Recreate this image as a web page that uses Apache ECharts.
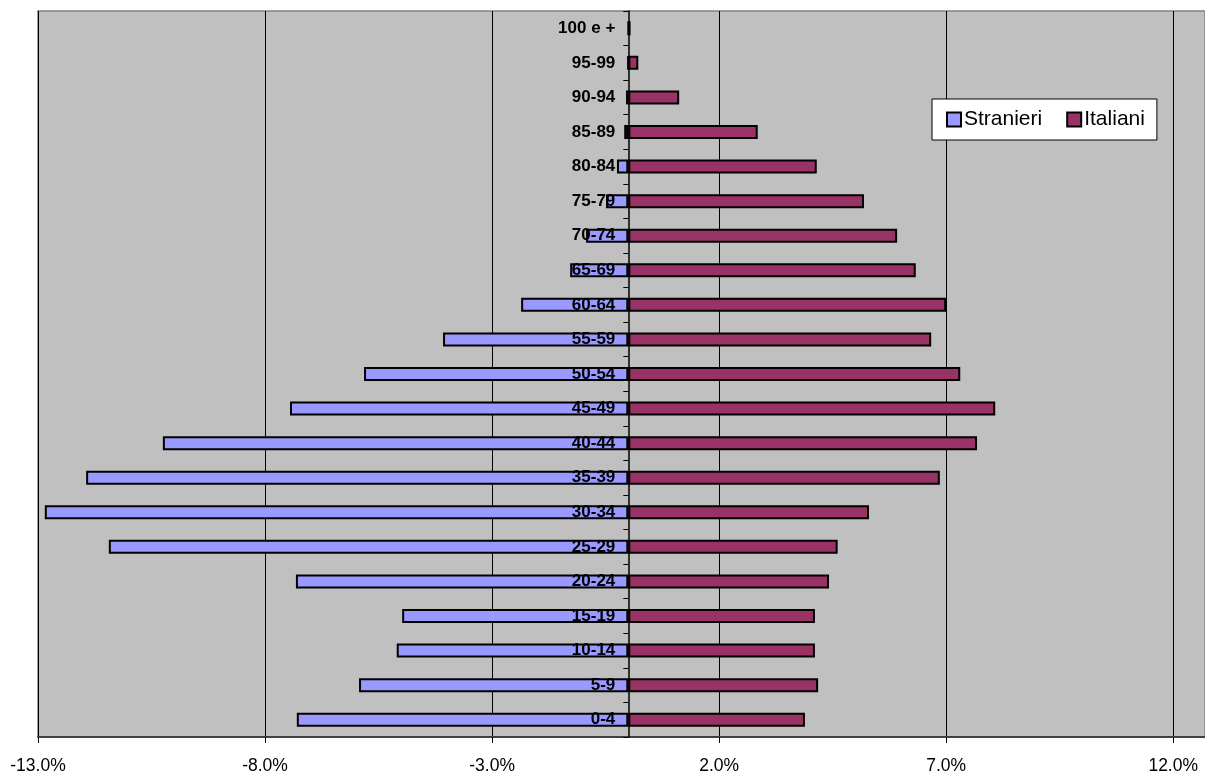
<!DOCTYPE html>
<html>
<head>
<meta charset="utf-8">
<title>Piramide per età – Stranieri e Italiani</title>
<script src="https://cdn.jsdelivr.net/npm/echarts@6/dist/echarts.min.js"></script>
<style>
  html, body { margin: 0; padding: 0; background: #ffffff; }
  #chart { width: 1205px; height: 771px; }
</style>
</head>
<body>
<div id="chart"></div>
<script>
// Age classes, from youngest (bottom) to oldest (top)
const ageClasses = ['0-4', '5-9', '10-14', '15-19', '20-24', '25-29', '30-34', '35-39',
  '40-44', '45-49', '50-54', '55-59', '60-64', '65-69', '70-74', '75-79',
  '80-84', '85-89', '90-94', '95-99', '100 e +'];

// Share of each population by age class (%); foreigners drawn on the negative side
const stranieri = [-7.30, -5.93, -5.10, -4.98, -7.32, -11.44, -12.85, -11.94,
  -10.25, -7.45, -5.82, -4.08, -2.36, -1.28, -0.93, -0.49,
  -0.25, -0.09, -0.05, -0.01, 0.0];
const italiani = [3.89, 4.18, 4.11, 4.11, 4.42, 4.61, 5.30, 6.86,
  7.68, 8.08, 7.31, 6.67, 7.00, 6.33, 5.92, 5.19,
  4.15, 2.85, 1.12, 0.22, 0.05];

// Percentage axis ticks
const tickMin = -13;
const tickStep = 5;
const tickMax = 12;
const axisMax = 12.7;

const FONT = 'Arial, "Liberation Sans", sans-serif';

const GRID_LEFT = 38, GRID_RIGHT = 0;
const chartWidth = 1205;

// pixel offset that places the category axis on the zero line
const plotWidth = chartWidth - GRID_LEFT - GRID_RIGHT;
const zeroOffset = plotWidth * (0 - tickMin) / (axisMax - tickMin);

const chart = echarts.init(document.getElementById('chart'), null, { renderer: 'canvas' });

chart.setOption({
  animation: false,
  backgroundColor: '#ffffff',
  textStyle: { fontFamily: FONT },
  grid: {
    left: GRID_LEFT, right: GRID_RIGHT, top: 11, bottom: 34,
    containLabel: false,
    outerBoundsMode: 'none',
    show: true,
    backgroundColor: '#c0c0c0',
    borderColor: '#808080',
    borderWidth: 1.5
  },
  legend: {
    data: ['Stranieri', 'Italiani'],
    left: 932, top: 99,
    orient: 'horizontal',
    icon: 'rect',
    itemWidth: 14, itemHeight: 14,
    itemGap: 24,
    padding: [10, 12, 10, 14],
    backgroundColor: '#ffffff',
    borderColor: '#000000',
    borderWidth: 1,
    textStyle: { fontFamily: FONT, fontSize: 21, color: '#000000', padding: [0, 0, 0, -2] }
  },
  xAxis: {
    type: 'value',
    min: tickMin,
    max: axisMax,
    interval: tickStep,
    axisLine: { show: true, onZero: false, lineStyle: { color: '#404040', width: 2 } },
    axisTick: { show: true, length: 6, lineStyle: { color: '#000000', width: 1 } },
    axisLabel: {
      margin: 20,
      fontSize: 17.5,
      fontFamily: FONT,
      color: '#000000',
      formatter: function (v) {
        const k = (v - tickMin) / tickStep;
        if (Math.abs(k - Math.round(k)) > 1e-6 || v > tickMax + 1e-6) return '';
        return v.toFixed(1) + '%';
      }
    },
    splitLine: { show: true, lineStyle: { color: '#000000', width: 1 } }
  },
  yAxis: {
    type: 'category',
    data: ageClasses,
    position: 'left',
    offset: -zeroOffset,
    z: 10,
    axisLine: { show: true, onZero: false, lineStyle: { color: '#000000', width: 1.5 } },
    axisTick: { show: true, length: 5, inside: false, lineStyle: { color: '#000000', width: 1 } },
    axisLabel: {
      margin: 13,
      fontSize: 17,
      fontWeight: 'bold',
      fontFamily: FONT,
      color: '#000000'
    },
    splitLine: { show: false }
  },
  series: [
    {
      name: 'Stranieri',
      type: 'bar',
      data: stranieri,
      barWidth: 14,
      barGap: '-100%',
      itemStyle: { color: '#9999ff', borderColor: '#000000', borderWidth: 2 }
    },
    {
      name: 'Italiani',
      type: 'bar',
      data: italiani,
      barWidth: 14,
      barGap: '-100%',
      itemStyle: { color: '#993366', borderColor: '#000000', borderWidth: 2 }
    }
  ]
});
</script>
</body>
</html>
